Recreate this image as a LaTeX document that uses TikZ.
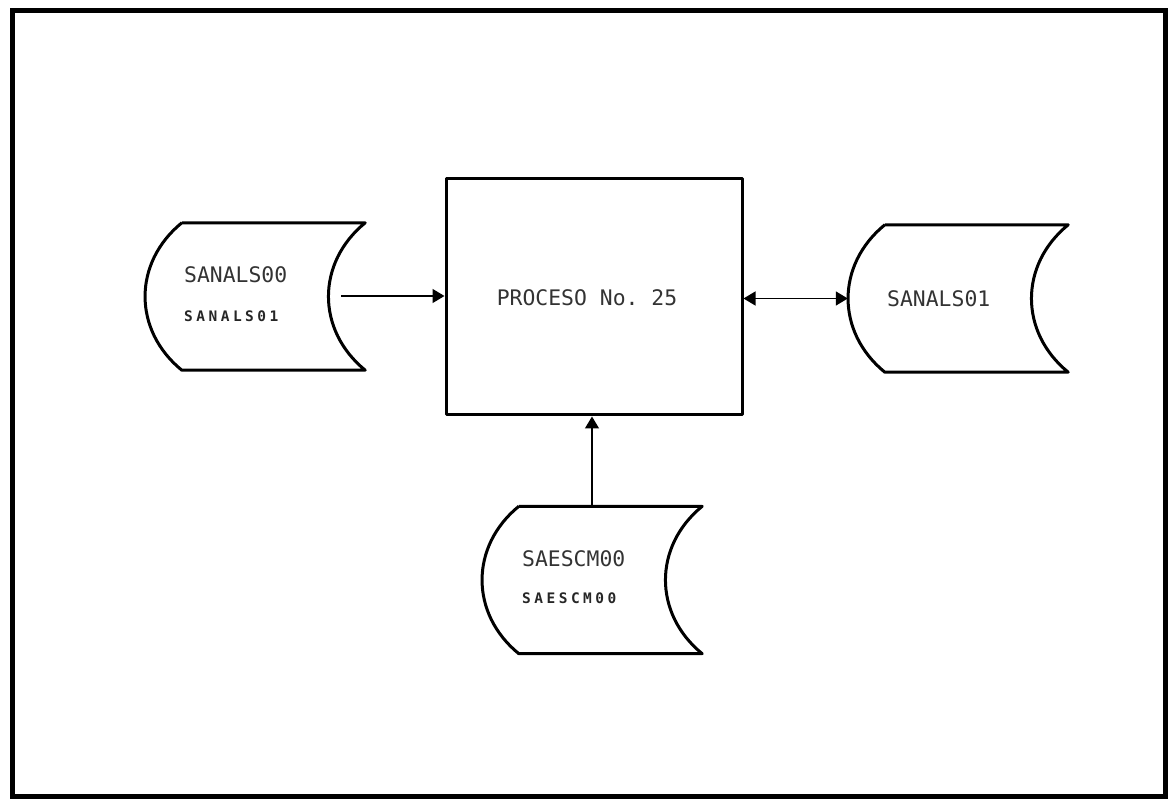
\documentclass[tikz,border=0pt]{standalone}
\usepackage{fontspec}
\usepackage{tikz}
\usetikzlibrary{arrows.meta}
\newfontfamily\matriz{DejaVu Sans Mono}
\newfontfamily\matrizchica[LetterSpace=24]{DejaVu Sans Mono}

\tikzset{
  borde/.style={line width=3pt, line join=round},
  archivo/.style={minimum width=220pt, minimum height=147pt, inner sep=0pt},
  rotulo/.style={font=\matriz\fontsize{21.4}{24}\selectfont, text=black!80, inner sep=0pt, anchor=base west},
  rotulochico/.style={font=\matrizchica\bfseries\fontsize{14.5}{16}\selectfont, text=black!85, inner sep=0pt, anchor=base west},
  punta/.tip={Triangle[length=12pt,width=14pt]},
  flecha/.style={line width=1.4pt, -punta},
  flechados/.style={line width=1.4pt, punta-punta},
}

\newcommand{\cinta}[1]{%
  \draw[borde] ([xshift=37pt]#1.north west) -- (#1.north east)
    .. controls ([xshift=-49pt,yshift=-40pt]#1.north east) and ([xshift=-49pt,yshift=40pt]#1.south east) .. (#1.south east)
    -- ([xshift=37pt]#1.south west)
    .. controls ([xshift=-12pt,yshift=40pt]#1.south west) and ([xshift=-12pt,yshift=-40pt]#1.north west) .. ([xshift=37pt]#1.north west);}

\begin{document}
\begin{tikzpicture}[x=1pt,y=-1pt]
\useasboundingbox (0,0) rectangle (1171,799);
\draw[line width=5pt] (12,11) rectangle (1165,796);

% proceso
\node[draw, borde, minimum width=296pt, minimum height=236pt] (proceso) at (594,297) {};
\node[rotulo, anchor=base] (procesoT) at (587,306) {PROCESO No.~25};

% archivos
\node[archivo] (entrada) at (255,296.5) {};
\cinta{entrada}
\node[rotulo] (entradaA) at (184,283) {SANALS00};
\node[rotulochico] (entradaB) at (184,322) {SANALS01};

\node[archivo] (maestro) at (958,298.5) {};
\cinta{maestro}
\node[rotulo] (maestroA) at (887,307) {SANALS01};

\node[archivo] (escuelas) at (592,580) {};
\cinta{escuelas}
\node[rotulo] (escuelasA) at (522,567) {SAESCM00};
\node[rotulochico] (escuelasB) at (522,603) {SAESCM00};

% flechas
\coordinate (entradaS) at (341,296);
\draw[flecha] (entradaS) -- (entradaS -| proceso.west);
\draw[flechados] (proceso.east |- maestro.west) -- (maestro.west);
\draw[flecha] (escuelas.north) -- (escuelas.north |- proceso.south);
\end{tikzpicture}
\end{document}
